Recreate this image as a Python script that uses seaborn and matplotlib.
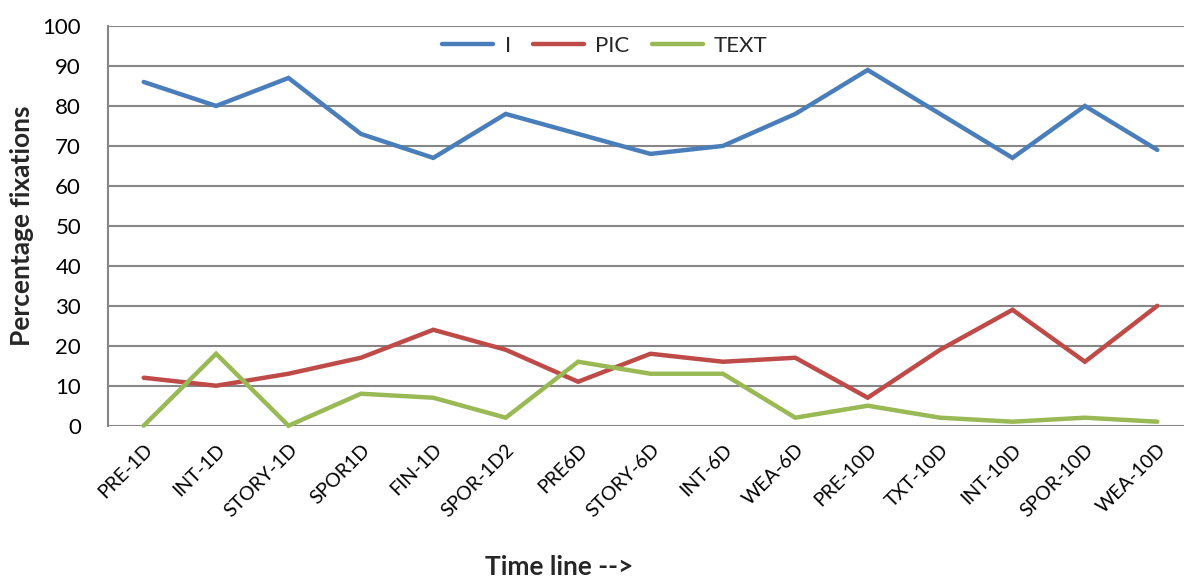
import matplotlib
matplotlib.use("Agg")
import matplotlib.pyplot as plt
import seaborn as sns
import pandas as pd
import numpy as np

categories = ["PRE-1D", "INT-1D", "STORY-1D", "SPOR1D", "FIN-1D", "SPOR-1D2", "PRE6D",
              "STORY-6D", "INT-6D", "WEA-6D", "PRE-10D", "TXT-10D", "INT-10D", "SPOR-10D", "WEA-10D"]
series_i = [86, 80, 87, 73, 67, 78, 73, 68, 70, 78, 89, 78, 67, 80, 69]
series_pic = [12, 10, 13, 17, 24, 19, 11, 18, 16, 17, 7, 19, 29, 16, 30]
series_text = [0, 18, 0, 8, 7, 2, 16, 13, 13, 2, 5, 2, 1, 2, 1]
series_names = ["I", "PIC", "TEXT"]
colors = ["#4A7EBB", "#BE4B48", "#98B954"]

sns.set_theme(style="white")
plt.rcParams["font.family"] = ["Lato", "DejaVu Sans"]

rows = []
for name, vals in zip(series_names, [series_i, series_pic, series_text]):
    for k, (cat, v) in enumerate(zip(categories, vals)):
        rows.append({"pos": k, "category": cat, "value": v, "series": name})
df = pd.DataFrame(rows)

fig = plt.figure(figsize=(11.84, 5.79), dpi=100)
# axes spans 15 category bins; the right end runs past the figure edge
ax = fig.add_axes([107.5 / 1184, 1 - 425.7 / 579, 1086 / 1184, 399.7 / 579])

sns.lineplot(data=df, x="pos", y="value", hue="series", palette=colors,
             hue_order=series_names, linewidth=3.2, ax=ax, legend=True)
for line in ax.lines:
    line.set_solid_capstyle("round")
    line.set_solid_joinstyle("miter")
    line.set_clip_on(False)

ax.set_xlim(-0.5, len(categories) - 0.5)
ax.set_ylim(0, 100)
ax.set_yticks(np.arange(0, 101, 10))
ax.yaxis.grid(True, color="#868686", linewidth=1.5)
ax.set_axisbelow(True)

ax.set_xticks(np.arange(len(categories)))
ax.set_xticklabels(categories, rotation=45, ha="right", rotation_mode="anchor", fontsize=14)
ax.tick_params(axis="x", length=0, pad=11)
# tick marks at bin boundaries
ax.set_xticks(np.arange(-0.5, len(categories), 1.0), minor=True)
ax.tick_params(axis="x", which="minor", length=7, width=1.5, color="#868686", direction="out")
ax.tick_params(axis="y", length=8, width=1.5, color="#868686", direction="out", labelsize=16, pad=11)
ax.tick_params(axis="both", labelcolor="black")

for s in ["top", "right", "bottom"]:
    ax.spines[s].set_visible(False)
ax.spines["left"].set_color("#868686")
ax.spines["left"].set_linewidth(1.5)

ax.set_ylabel("")
ax.set_xlabel("")
fig.text(22 / 1184, 1 - 226 / 579, "Percentage fixations", fontsize=19, fontweight="bold",
         ha="center", va="center", rotation=90)
fig.text(559 / 1184, 1 - 567 / 579, "Time line -->", fontsize=19, fontweight="bold",
         ha="center", va="center")

handles, labels = ax.get_legend_handles_labels()
ax.legend(handles, labels, loc="center", bbox_to_anchor=((605 - 107.5) / 1086, (426 - 46) / 400),
          ncol=3, frameon=False, fontsize=16, handlelength=2.3, columnspacing=1.0,
          handletextpad=0.5)

fig.savefig("out.png", dpi=100)
